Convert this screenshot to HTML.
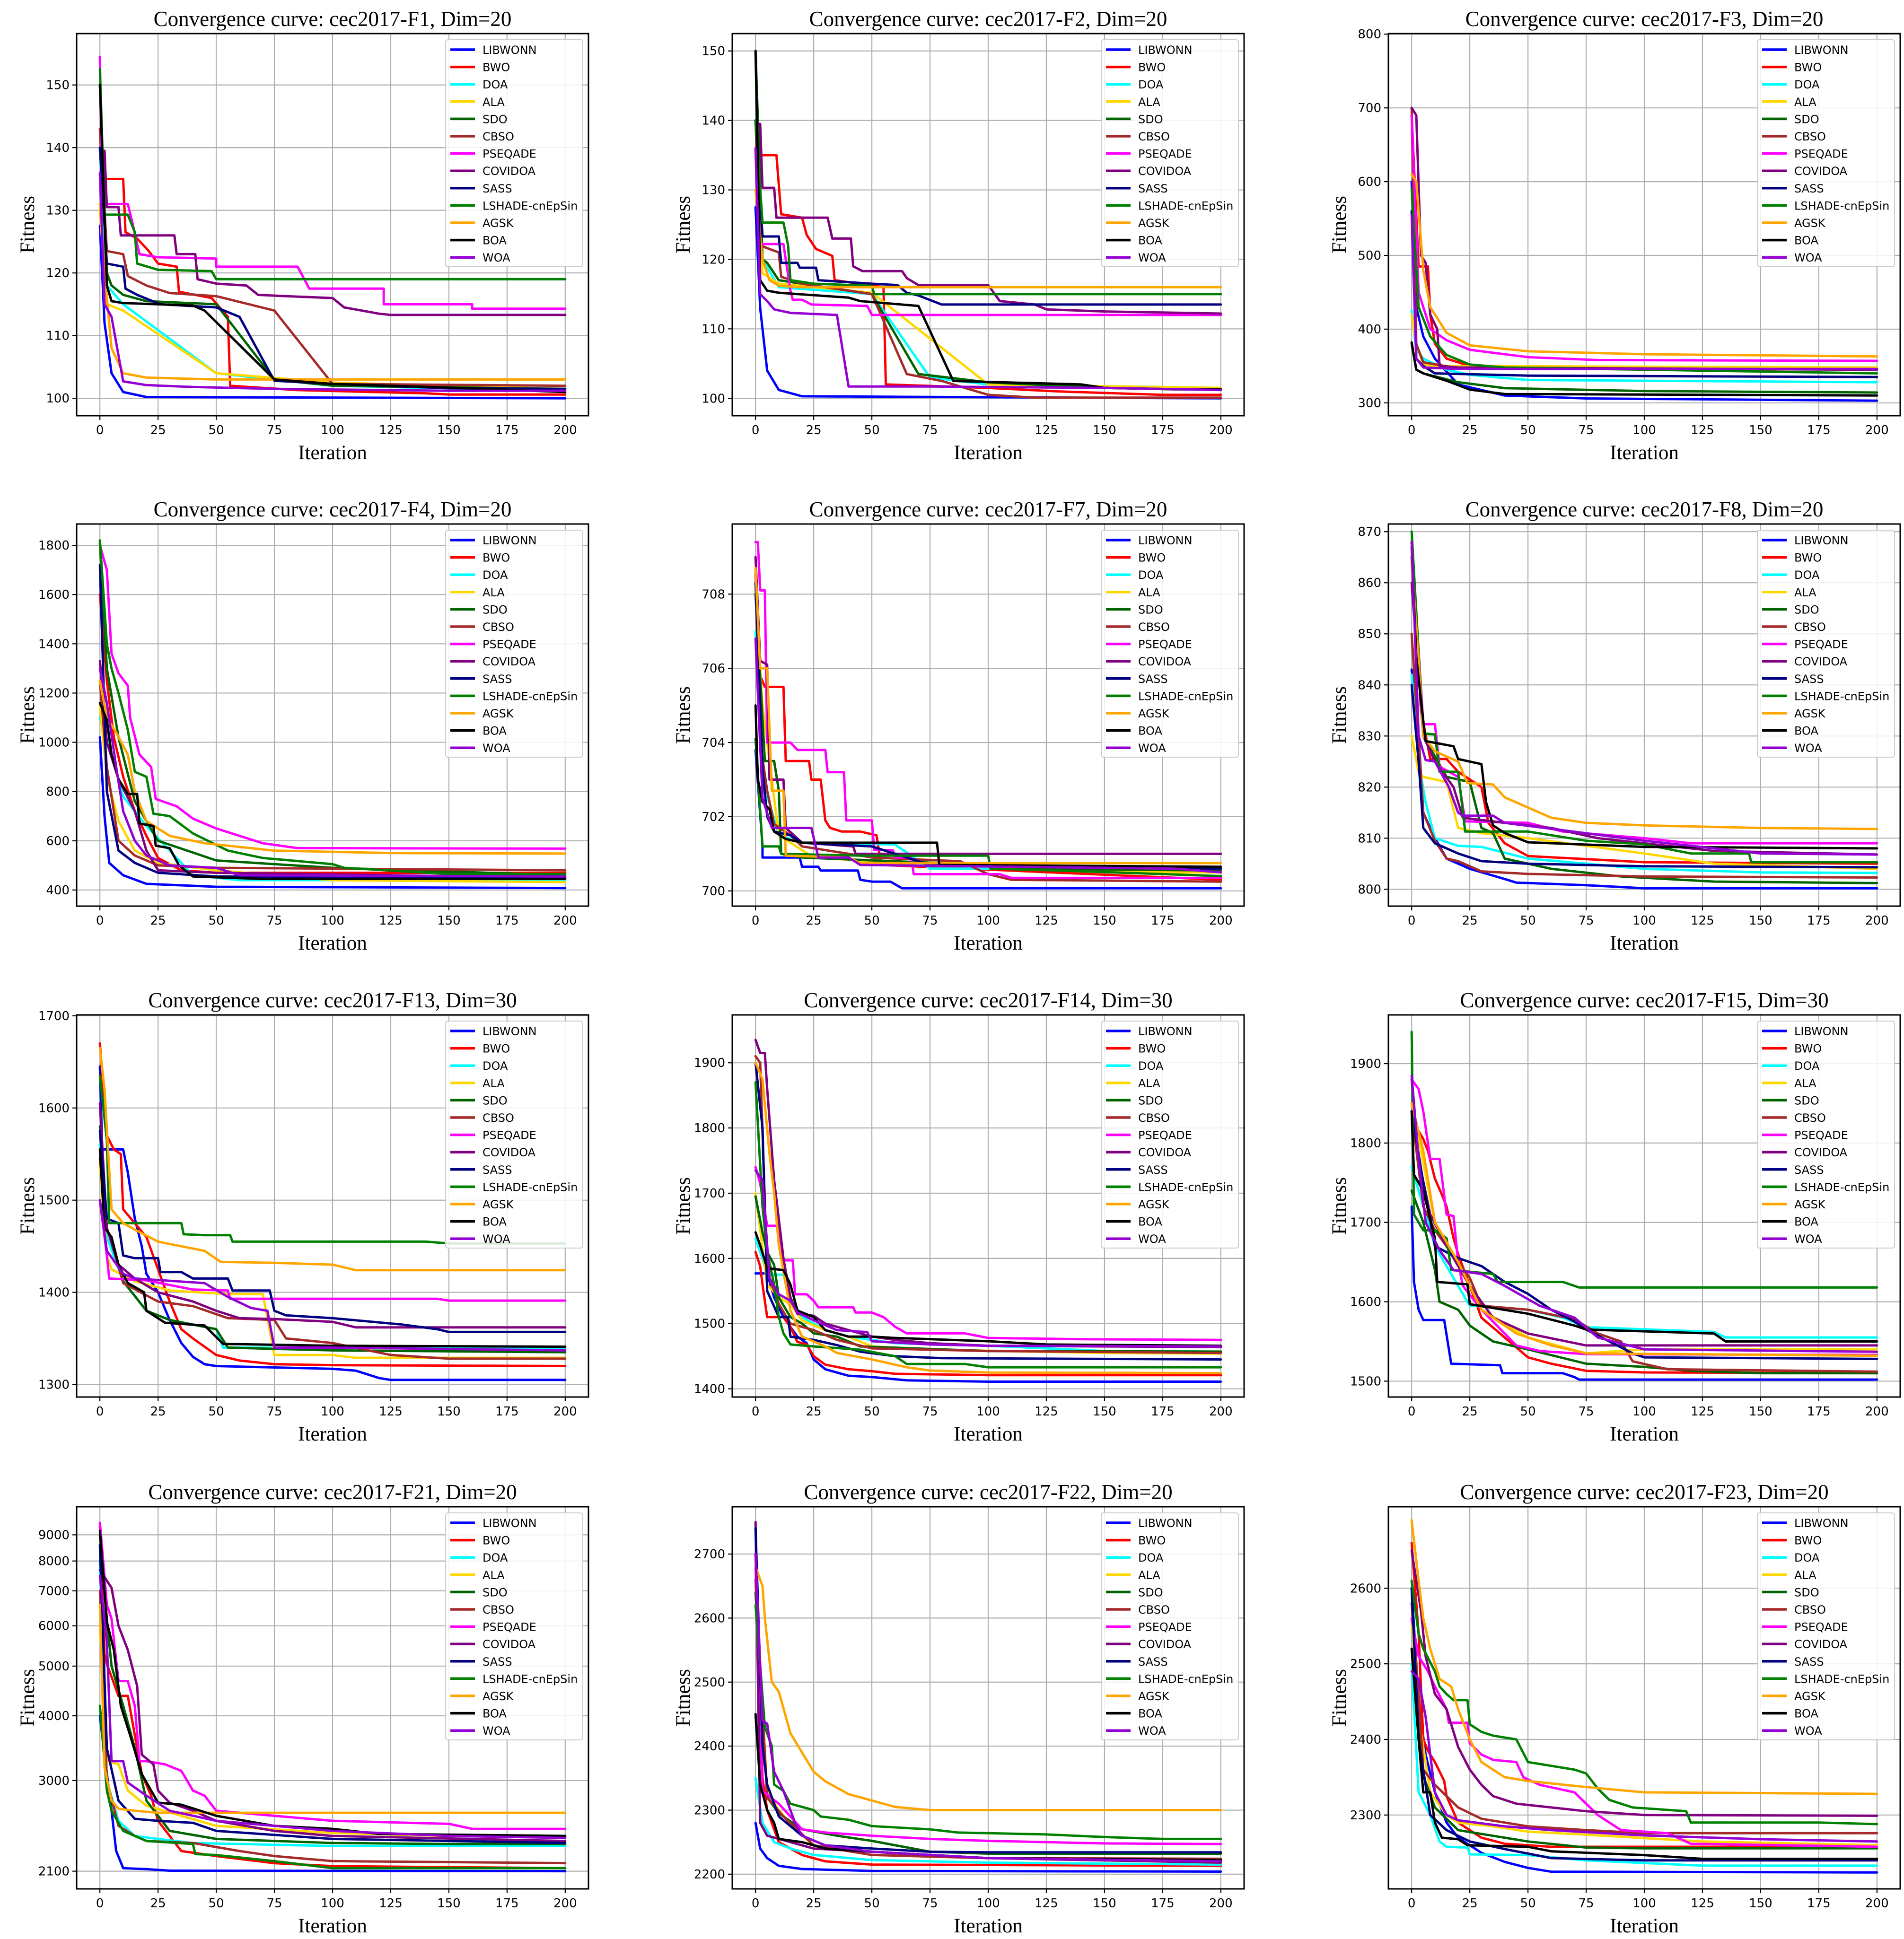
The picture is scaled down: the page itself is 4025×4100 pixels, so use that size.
<!DOCTYPE html>
<html><head><meta charset="utf-8"><title>Convergence curves</title>
<style>
html,body{margin:0;padding:0;background:#fff;}
svg{display:block;}
.title{font-family:"Liberation Serif",serif;font-size:45px;fill:#000;}
.axlab{font-family:"Liberation Serif",serif;font-size:43px;fill:#000;}
.tick{font-family:"DejaVu Sans","Liberation Sans",sans-serif;font-size:26px;fill:#000;}
.leg{font-family:"DejaVu Sans","Liberation Sans",sans-serif;font-size:24px;fill:#000;}
</style></head>
<body>
<svg id="fig" xmlns="http://www.w3.org/2000/svg" width="4025" height="4100" viewBox="0 0 4025 4100"></svg>
<script>
const seriesNames = ["LIBWONN","BWO","DOA","ALA","SDO","CBSO","PSEQADE","COVIDOA","SASS","LSHADE-cnEpSin","AGSK","BOA","WOA"];
const seriesColors = ["#0000ff","#ff0000","#00ffff","#ffd700","#006400","#a52a2a","#ff00ff","#800080","#000080","#008000","#ffa500","#000000","#9400d3"];
const panelTitles = ["cec2017-F1, Dim=20","cec2017-F2, Dim=20","cec2017-F3, Dim=20","cec2017-F4, Dim=20","cec2017-F7, Dim=20","cec2017-F8, Dim=20","cec2017-F13, Dim=30","cec2017-F14, Dim=30","cec2017-F15, Dim=30","cec2017-F21, Dim=20","cec2017-F22, Dim=20","cec2017-F23, Dim=20"];
const xTicks = [0,25,50,75,100,125,150,175,200];
const yLimits = [[97.22,158.2],[97.5,152.5],[282.6,800.8],[334.5,1886.6],[699.59,709.89],[796.7,871.5],[1286.4,1701],[1387.4,1973.4],[1480,1961.4],[2000,9700],[2177,2773.9],[2202.3,2707.8]];
const yTicksList = [
 [100,110,120,130,140,150],[100,110,120,130,140,150],[300,400,500,600,700,800],
 [400,600,800,1000,1200,1400,1600,1800],[700,702,704,706,708],[800,810,820,830,840,850,860,870],
 [1300,1400,1500,1600,1700],[1400,1500,1600,1700,1800,1900],[1500,1600,1700,1800,1900],
 [2100,3000,4000,5000,6000,7000,8000,9000],[2200,2300,2400,2500,2600,2700],[2300,2400,2500,2600]];
const f21KnotValues = [2000,2100,3000,4000,5000,6000,7000,8000,9000,9700];
const f21KnotFracs  = [0.0,0.0463,0.2835,0.4529,0.583,0.6885,0.780,0.858,0.9265,1.0];

const F1 = [
[[0,127.5],[2,112],[5,104],[10,101],[20,100.2],[200,100]],
[[0,143],[1,135],[10,135],[11,126.5],[16,125.5],[21,123.5],[25,121.5],[33,121],[34,117],[48,116],[55,113],[56,102],[85,101.3],[140,100.8],[150,100.6],[200,100.6]],
[[0,140],[3,118],[10,115],[50,104],[100,102],[200,101.2]],
[[0,130],[3,115],[10,114],[50,104],[100,102.5],[200,101.5]],
[[0,150],[3,120],[5,118],[10,116.5],[20,115.5],[50,115],[75,103],[100,102],[200,101.5]],
[[0,143],[3,123.5],[10,123],[12,119.5],[20,118],[30,116.8],[50,116.3],[75,114],[100,102.3],[200,102]],
[[0,154.5],[1,131],[12,131],[14,128],[17,123],[25,122.5],[50,122.3],[50,121],[85,121],[90,117.5],[122,117.5],[122,115],[160,115],[160,114.3],[200,114.3]],
[[0,139.5],[2,139.5],[3,130.5],[8,130.5],[9,126],[32,126],[33,123],[41,123],[42,119],[50,118.3],[63,118],[68,116.5],[80,116.3],[100,116],[105,114.5],[120,113.5],[125,113.3],[200,113.3]],
[[0,140],[3,121.5],[10,121],[11,117.5],[16,116.5],[26,115],[50,114.5],[60,113],[75,102.8],[100,102.3],[150,101.6],[200,101.5]],
[[0,152.5],[2,129.3],[12,129.3],[15,126.5],[16,121.5],[25,120.5],[48,120.3],[50,119],[200,119]],
[[0,131],[2,120],[5,108],[10,104],[20,103.3],[50,103],[200,103]],
[[0,150],[3,118],[5,115.5],[10,115.2],[40,114.8],[45,114],[75,103],[100,102.3],[150,101.7],[200,101]],
[[0,136],[2,115],[5,113],[10,102.7],[20,102.1],[40,101.8],[75,101.5],[150,101.2],[200,101.2]]];

const F2 = [
[[0,127.5],[2,113],[5,104],[10,101.2],[20,100.3],[200,100]],
[[0,140],[1,135],[9,135],[11,126.5],[20,126],[22,123.5],[26,121.5],[33,120.5],[34,117],[55,116],[56,102],[100,101.5],[130,101],[175,100.5],[200,100.5]],
[[0,140],[3,120],[10,116],[50,115],[75,103],[100,102],[200,101.5]],
[[0,135],[3,118],[10,116.5],[50,115.2],[100,102],[200,101.5]],
[[0,150],[3,120],[5,119.5],[10,117],[20,116.5],[50,115],[70,103.5],[100,102.3],[150,101.5],[200,101.2]],
[[0,140],[2,122],[10,121],[11,117.5],[20,116.5],[50,115],[65,103.5],[80,102.5],[100,100.5],[120,100.1],[200,100.1]],
[[0,136],[2,122.2],[12,122.2],[15,115.5],[16,114.2],[20,114.2],[24,113.5],[48,113.3],[50,112],[200,112]],
[[0,139.5],[2,139.5],[3,130.3],[8,130.3],[9,126],[31,126],[33,123],[41,123],[42,119],[46,118.3],[63,118.3],[65,117.3],[70,116.3],[100,116.3],[105,114],[120,113.5],[125,112.8],[150,112.5],[200,112.2]],
[[0,140],[3,123.3],[10,123.3],[11,119.5],[18,119.5],[19,118.8],[26,118.8],[27,117],[50,116.5],[61,116.3],[65,115.2],[70,114.8],[80,113.5],[200,113.5]],
[[0,140],[3,125.3],[12,125.3],[14,122],[15,117],[25,116.5],[50,116.2],[51,115],[200,115]],
[[0,130],[3,120],[6,117],[10,116.2],[20,116],[200,116]],
[[0,150],[2,117],[5,115.5],[10,115.2],[40,114.5],[45,114],[70,113.3],[85,102.5],[140,102],[150,101.5],[180,101.3],[200,101.3]],
[[0,136],[2,115],[5,114],[8,112.8],[15,112.3],[35,112],[40,101.7],[75,101.7],[150,101.5],[200,101.2]]];

const F3 = [
[[0,600],[2,430],[5,390],[10,360],[20,325],[40,310],[75,306],[200,303]],
[[0,690],[3,485],[7,485],[8,420],[10,380],[15,360],[25,350],[200,347]],
[[0,425],[2,372],[5,360],[15,345],[25,338],[50,331],[100,330],[200,328]],
[[0,420],[2,380],[5,352],[10,350],[200,348]],
[[0,380],[2,345],[5,340],[20,328],[40,320],[100,316],[200,314]],
[[0,700],[2,380],[5,355],[20,347],[200,345]],
[[0,690],[3,450],[8,400],[15,385],[25,372],[50,362],[80,358],[200,357]],
[[0,700],[2,690],[4,500],[6,490],[8,420],[11,400],[12,350],[20,348],[200,345]],
[[0,560],[2,360],[5,350],[10,340],[50,337],[200,335]],
[[0,590],[3,430],[8,390],[15,365],[25,352],[40,348],[200,340]],
[[0,610],[2,600],[5,480],[8,430],[15,395],[25,378],[50,370],[100,366],[200,363]],
[[0,382],[2,345],[5,340],[15,330],[25,318],[40,312],[200,310]],
[[0,555],[2,360],[5,348],[20,346],[200,346]]];

const F4 = [
[[0,1020],[2,700],[4,510],[10,460],[20,425],[50,413],[200,408]],
[[0,1600],[3,1250],[6,1020],[10,860],[15,720],[20,620],[25,530],[35,480],[50,470],[200,470]],
[[0,1100],[5,950],[10,780],[20,660],[30,560],[40,460],[60,440],[200,440]],
[[0,1150],[3,860],[8,680],[15,560],[25,510],[50,480],[100,440],[200,432]],
[[0,1810],[3,1300],[8,1020],[15,760],[25,600],[50,520],[100,490],[200,460]],
[[0,1250],[3,900],[8,600],[15,540],[25,500],[50,490],[200,480]],
[[0,1800],[3,1700],[5,1360],[8,1280],[12,1230],[13,1100],[17,950],[22,900],[24,770],[33,740],[40,690],[50,650],[60,620],[70,590],[85,570],[200,568]],
[[0,1330],[3,1000],[8,850],[15,720],[20,560],[25,480],[50,470],[200,450]],
[[0,1720],[3,800],[8,560],[15,510],[25,470],[50,455],[200,450]],
[[0,1820],[3,1400],[5,1300],[8,1200],[12,1050],[15,880],[20,860],[23,710],[30,700],[40,630],[55,560],[70,530],[100,505],[105,490],[150,465],[200,465]],
[[0,1250],[3,1100],[7,1040],[12,950],[15,800],[20,680],[30,620],[45,590],[75,560],[125,550],[200,548]],
[[0,1160],[3,1090],[5,950],[8,850],[12,790],[16,790],[17,670],[23,660],[24,580],[30,570],[34,500],[40,455],[70,445],[200,445]],
[[0,1300],[3,1160],[7,900],[10,720],[15,600],[20,540],[30,500],[50,490],[60,460],[200,455]]];

const F7 = [
[[0,703.8],[3,701.2],[3,700.9],[19,700.9],[20,700.65],[27,700.65],[28,700.55],[44,700.55],[45,700.3],[50,700.25],[58,700.25],[63,700.07],[200,700.07]],
[[0,708.5],[2,705.8],[4,705.5],[12,705.5],[13,703.5],[23,703.5],[24,703],[28,703],[30,701.9],[32,701.7],[37,701.6],[45,701.6],[52,701.5],[54,700.7],[200,700.3]],
[[0,707],[3,703],[10,701.5],[20,701.3],[60,701.25],[75,700.6],[200,700.6]],
[[0,708],[3,705],[10,701.5],[25,700.9],[50,700.8],[100,700.7],[175,700.5],[200,700.5]],
[[0,708],[4,703.5],[8,703.5],[10,702.7],[11,701],[20,700.9],[40,700.85],[100,700.7],[110,700.6],[200,700.55]],
[[0,708.6],[2,704],[5,702.7],[8,701.8],[15,701.5],[20,701.2],[50,700.9],[88,700.8],[100,700.45],[110,700.3],[200,700.25]],
[[0,709.4],[1,709.4],[2,708.1],[4,708.1],[5,704],[15,704],[18,703.8],[30,703.8],[31,703.2],[38,703.2],[39,701.9],[50,701.9],[51,701.1],[59,701.1],[60,700.9],[67,700.9],[68,700.45],[105,700.45],[110,700.35],[200,700.35]],
[[0,709],[2,706.2],[5,706.1],[6,703],[12,703],[13,701.7],[20,701.3],[42,701.2],[43,701],[200,701]],
[[0,708.3],[3,703.3],[5,702],[8,701.6],[15,701.5],[20,701.3],[50,701.2],[75,700.7],[200,700.6]],
[[0,704.1],[3,701.2],[10,701.2],[11,701.0],[45,700.95],[100,700.95],[101,700.6],[130,700.55],[200,700.4]],
[[0,708.7],[2,706],[5,706],[7,702.7],[12,702.7],[13,700.95],[40,700.9],[45,700.75],[200,700.75]],
[[0,705],[1,703],[3,702.4],[6,702.2],[8,701.6],[13,701.4],[20,701.3],[50,701.3],[78,701.3],[79,700.7],[200,700.65]],
[[0,706.8],[3,702.5],[7,701.7],[24,701.7],[27,700.9],[40,700.9],[45,700.7],[180,700.6],[200,700.5]]];

const F8 = [
[[0,843],[3,830],[5,815],[10,810],[15,806],[25,804],[40,802],[45,801.3],[75,800.8],[100,800.2],[200,800.2]],
[[0,868],[4,835],[8,825.5],[15,825.5],[20,823],[30,820],[33,813],[40,809],[50,806.5],[100,805.3],[200,805]],
[[0,842],[3,825],[6,817],[10,810],[20,808.5],[30,808.3],[50,806],[100,804],[150,803.3],[200,803.2]],
[[0,830],[3,823],[5,822],[15,821],[20,812],[30,811],[50,810],[100,807],[130,805],[200,804]],
[[0,865],[5,830],[15,822],[25,821],[30,812],[35,811],[40,806],[60,804],[90,802.5],[130,801.5],[200,801.2]],
[[0,850],[5,815],[10,809.5],[15,806],[20,805.5],[30,803.5],[50,803],[100,802.5],[200,802.3]],
[[0,868],[5,832.3],[10,832.3],[12,824],[20,822],[23,813.3],[50,813],[65,811.3],[100,810],[120,809],[200,809]],
[[0,860],[5,830],[10,825],[18,820],[22,814],[40,813],[60,812],[80,810],[100,809],[130,807.5],[200,806.8]],
[[0,840],[3,825],[5,812],[10,809],[15,808],[20,807],[30,805.5],[50,805],[100,804.5],[200,804.3]],
[[0,870],[5,830.5],[10,830.3],[12,823],[20,823],[23,811.3],[50,811.3],[75,809.5],[100,808.8],[120,807],[145,807],[146,805.3],[200,805.3]],
[[0,864],[3,845],[5,830],[10,827],[20,825],[24,820.8],[35,820.5],[40,818],[50,816],[60,814],[75,813],[100,812.5],[150,812],[200,811.8]],
[[0,867],[2,845.5],[4,837],[6,829],[18,828],[20,825.5],[25,825],[30,824.5],[32,817],[35,812.5],[40,811],[50,809.2],[100,808.3],[200,808]],
[[0,868],[3,830],[6,825.3],[10,825],[16,820],[20,815],[22,814.4],[35,814.4],[40,813],[100,809.5],[150,807],[200,806.8]]];

const F13 = [
[[0,1645],[1,1555],[10,1555],[12,1530],[15,1480],[18,1450],[20,1420],[25,1400],[30,1370],[35,1345],[40,1330],[45,1322],[50,1320],[100,1317],[110,1315],[120,1307],[125,1305],[200,1305]],
[[0,1670],[3,1570],[6,1555],[9,1550],[10,1490],[20,1460],[25,1425],[30,1390],[35,1360],[40,1350],[50,1332],[60,1326],[75,1322],[100,1321],[200,1320]],
[[0,1560],[3,1460],[10,1412],[20,1380],[30,1370],[50,1360],[53,1340],[200,1340]],
[[0,1540],[3,1440],[5,1425],[15,1412],[30,1402],[55,1398],[70,1398],[75,1332],[100,1332],[110,1329],[200,1329]],
[[0,1580],[3,1470],[10,1412],[20,1380],[30,1370],[50,1360],[55,1340],[100,1337],[200,1335]],
[[0,1545],[3,1470],[5,1455],[10,1410],[25,1390],[40,1385],[55,1372],[75,1370],[80,1350],[100,1345],[125,1332],[150,1328],[200,1328]],
[[0,1500],[3,1440],[4,1415],[20,1413],[40,1403],[55,1402],[56,1393],[145,1393],[150,1391],[200,1391]],
[[0,1605],[3,1470],[8,1430],[15,1415],[25,1400],[40,1390],[50,1380],[60,1372],[75,1371],[100,1368],[110,1362],[200,1362]],
[[0,1575],[3,1480],[8,1475],[10,1440],[15,1437],[25,1437],[26,1422],[35,1422],[40,1415],[55,1415],[57,1402],[73,1402],[75,1380],[80,1375],[100,1372],[130,1365],[145,1360],[150,1357],[200,1357]],
[[0,1635],[3,1565],[4,1475],[35,1475],[36,1463],[45,1462],[56,1462],[57,1455],[140,1455],[150,1453],[200,1453]],
[[0,1665],[2,1620],[5,1490],[10,1475],[15,1468],[25,1455],[35,1450],[45,1445],[52,1433],[75,1432],[100,1430],[110,1424],[200,1424]],
[[0,1555],[2,1470],[5,1460],[8,1430],[12,1410],[19,1400],[20,1380],[28,1367],[45,1364],[53,1344],[100,1342],[200,1341]],
[[0,1500],[3,1445],[10,1420],[15,1415],[45,1410],[55,1395],[65,1383],[72,1380],[75,1340],[100,1340],[200,1337]]];

const F14 = [
[[0,1577],[5,1577],[8,1540],[12,1510],[18,1480],[22,1470],[25,1445],[30,1430],[35,1425],[40,1420],[50,1418],[65,1413],[100,1411],[200,1411]],
[[0,1610],[2,1588],[3,1560],[5,1510],[12,1510],[15,1495],[18,1472],[22,1468],[25,1450],[30,1437],[40,1430],[50,1427],[60,1423],[100,1421],[200,1421]],
[[0,1630],[3,1600],[5,1575],[12,1575],[15,1540],[20,1510],[25,1500],[30,1490],[40,1480],[60,1470],[100,1466],[150,1458],[200,1457]],
[[0,1700],[5,1560],[10,1540],[15,1530],[20,1505],[30,1490],[40,1480],[50,1465],[75,1460],[150,1455],[200,1454]],
[[0,1695],[3,1640],[5,1610],[8,1590],[10,1540],[15,1510],[20,1500],[25,1485],[35,1480],[45,1465],[100,1458],[200,1457]],
[[0,1910],[2,1900],[5,1580],[10,1530],[15,1500],[25,1490],[35,1475],[50,1462],[100,1458],[200,1455]],
[[0,1740],[2,1715],[5,1650],[10,1650],[12,1597],[16,1597],[17,1545],[22,1545],[25,1535],[27,1525],[42,1525],[43,1517],[50,1517],[55,1510],[60,1495],[65,1485],[90,1485],[100,1478],[140,1476],[200,1475]],
[[0,1935],[2,1915],[4,1915],[5,1860],[8,1720],[10,1660],[12,1600],[15,1540],[18,1515],[25,1512],[30,1500],[40,1490],[50,1480],[60,1475],[75,1470],[100,1466],[200,1464]],
[[0,1900],[3,1800],[5,1550],[10,1510],[14,1510],[15,1480],[25,1475],[35,1467],[45,1457],[60,1450],[80,1447],[200,1445]],
[[0,1870],[3,1680],[5,1610],[8,1560],[10,1510],[12,1485],[15,1468],[25,1465],[45,1460],[60,1450],[65,1438],[90,1438],[100,1433],[200,1433]],
[[0,1900],[3,1875],[6,1760],[8,1700],[10,1620],[15,1520],[20,1480],[30,1465],[35,1455],[50,1445],[65,1433],[75,1428],[100,1425],[200,1424]],
[[0,1640],[2,1620],[5,1585],[12,1582],[15,1560],[18,1520],[25,1510],[30,1490],[40,1480],[50,1480],[60,1478],[100,1473],[125,1468],[200,1466]],
[[0,1735],[3,1720],[6,1570],[10,1545],[15,1535],[18,1517],[25,1505],[35,1490],[48,1487],[50,1473],[75,1468],[100,1466],[200,1465]]];

const F15 = [
[[0,1720],[1,1625],[3,1590],[5,1577],[14,1577],[16,1540],[17,1522],[38,1520],[39,1510],[65,1510],[70,1505],[72,1502],[200,1502]],
[[0,1830],[5,1805],[7,1790],[10,1755],[13,1735],[15,1720],[18,1680],[20,1660],[25,1620],[30,1580],[40,1555],[50,1530],[60,1522],[75,1513],[100,1511],[200,1510]],
[[0,1770],[5,1720],[10,1670],[25,1595],[50,1590],[65,1580],[75,1568],[130,1562],[135,1555],[200,1555]],
[[0,1850],[10,1700],[20,1650],[30,1590],[50,1555],[75,1535],[100,1540],[200,1540]],
[[0,1740],[5,1700],[10,1640],[12,1600],[20,1590],[25,1570],[35,1550],[50,1540],[75,1522],[100,1518],[120,1513],[150,1510],[200,1510]],
[[0,1840],[5,1720],[10,1690],[20,1650],[25,1630],[30,1595],[50,1590],[70,1578],[80,1560],[90,1550],[95,1525],[110,1515],[200,1512]],
[[0,1880],[3,1868],[5,1840],[8,1780],[12,1780],[15,1710],[18,1708],[20,1650],[22,1620],[30,1590],[40,1560],[45,1545],[55,1538],[75,1534],[200,1533]],
[[0,1880],[3,1780],[8,1710],[15,1670],[25,1620],[35,1580],[50,1560],[75,1545],[200,1545]],
[[0,1840],[5,1750],[10,1670],[20,1655],[30,1645],[40,1625],[50,1610],[60,1590],[70,1575],[75,1565],[85,1550],[95,1535],[100,1530],[200,1528]],
[[0,1940],[1,1710],[5,1690],[10,1690],[15,1680],[17,1640],[35,1635],[37,1625],[65,1625],[72,1618],[200,1618]],
[[0,1850],[5,1790],[10,1700],[20,1650],[30,1590],[45,1560],[60,1545],[75,1535],[200,1532]],
[[0,1840],[1,1760],[5,1740],[10,1680],[11,1625],[24,1622],[25,1597],[50,1585],[70,1570],[75,1565],[130,1560],[135,1550],[200,1550]],
[[0,1885],[3,1780],[6,1700],[12,1665],[18,1640],[30,1635],[40,1620],[55,1595],[70,1580],[80,1555],[100,1540],[200,1537]]];

const F21 = [
[[0,4000],[2,3400],[5,2700],[7,2300],[10,2130],[20,2120],[30,2105],[200,2100]],
[[0,9200],[2,5300],[3,5050],[8,4400],[12,4400],[15,3700],[18,3100],[22,2850],[25,2600],[30,2450],[35,2300],[50,2250],[75,2180],[100,2150],[150,2140],[200,2130]],
[[0,8000],[3,3000],[8,2600],[15,2450],[25,2420],[40,2380],[100,2350],[200,2350]],
[[0,6000],[3,3300],[8,3250],[12,2900],[20,2750],[50,2550],[100,2480],[150,2450],[200,2440]],
[[0,9000],[3,6200],[5,5000],[10,4200],[15,3500],[20,2800],[30,2500],[50,2420],[100,2380],[150,2370],[200,2370]],
[[0,7000],[3,3000],[8,2550],[15,2450],[20,2400],[40,2380],[60,2300],[75,2250],[100,2200],[200,2180]],
[[0,9300],[3,6600],[5,6200],[8,4700],[12,4700],[15,4200],[17,3300],[20,3300],[28,3250],[35,3150],[40,2900],[45,2850],[50,2700],[75,2650],[100,2600],[150,2570],[160,2520],[200,2520]],
[[0,7700],[5,7100],[8,6000],[12,5400],[16,4600],[18,3400],[23,3250],[25,2900],[30,2780],[40,2700],[50,2600],[75,2500],[100,2450],[200,2400]],
[[0,8600],[3,3500],[8,2800],[15,2620],[25,2600],[40,2580],[50,2500],[100,2420],[200,2380]],
[[0,4200],[3,2900],[5,2700],[10,2500],[15,2450],[20,2400],[40,2370],[41,2270],[50,2260],[75,2200],[100,2130],[200,2130]],
[[0,6600],[2,3200],[5,2800],[8,2720],[15,2700],[25,2680],[50,2680],[200,2680]],
[[0,9100],[3,6100],[6,5400],[9,4200],[13,3700],[18,3100],[25,2780],[35,2760],[50,2650],[75,2550],[100,2520],[120,2470],[200,2450]],
[[0,7500],[3,5600],[5,3300],[10,3300],[12,2980],[20,2850],[30,2700],[50,2600],[75,2550],[100,2500],[150,2450],[200,2430]]];

const F22 = [
[[0,2280],[2,2240],[5,2225],[10,2213],[20,2208],[50,2205],[200,2204]],
[[0,2700],[3,2350],[5,2300],[10,2250],[20,2230],[30,2220],[50,2215],[200,2213]],
[[0,2350],[3,2280],[8,2250],[15,2240],[25,2230],[50,2222],[100,2218],[200,2215]],
[[0,2650],[5,2330],[10,2300],[17,2270],[25,2245],[50,2230],[100,2225],[200,2218]],
[[0,2640],[5,2320],[10,2295],[20,2270],[35,2260],[50,2252],[75,2235],[100,2232],[200,2232]],
[[0,2660],[5,2320],[12,2290],[15,2280],[25,2245],[50,2230],[100,2225],[200,2224]],
[[0,2680],[3,2330],[10,2310],[20,2270],[30,2265],[50,2260],[75,2255],[100,2252],[150,2248],[200,2247]],
[[0,2750],[2,2280],[5,2260],[10,2255],[25,2240],[50,2235],[100,2225],[200,2218]],
[[0,2740],[3,2400],[5,2340],[10,2290],[20,2260],[30,2245],[50,2240],[75,2235],[100,2234],[200,2234]],
[[0,2620],[4,2430],[7,2400],[8,2340],[12,2330],[15,2310],[20,2305],[25,2300],[28,2290],[40,2285],[50,2275],[75,2270],[87,2265],[125,2262],[150,2258],[175,2255],[200,2255]],
[[0,2680],[3,2650],[4,2600],[7,2500],[10,2485],[15,2420],[20,2390],[25,2360],[30,2345],[40,2325],[50,2315],[60,2305],[75,2300],[200,2300]],
[[0,2450],[2,2340],[5,2300],[8,2280],[10,2255],[20,2250],[30,2240],[50,2235],[100,2225],[200,2222]],
[[0,2700],[3,2440],[5,2435],[8,2360],[12,2330],[17,2280],[20,2260],[30,2245],[50,2235],[100,2225],[200,2220]]];

const F23 = [
[[0,2600],[3,2450],[6,2380],[10,2330],[15,2290],[20,2270],[30,2250],[40,2238],[50,2230],[60,2225],[200,2224]],
[[0,2660],[3,2540],[5,2400],[7,2385],[10,2370],[14,2345],[15,2325],[20,2290],[30,2270],[40,2262],[60,2258],[200,2258]],
[[0,2500],[3,2330],[8,2300],[12,2265],[15,2258],[24,2257],[25,2248],[50,2247],[75,2240],[125,2233],[200,2233]],
[[0,2560],[3,2430],[8,2330],[15,2300],[20,2290],[35,2285],[50,2278],[75,2274],[125,2265],[200,2260]],
[[0,2600],[4,2360],[10,2310],[20,2280],[50,2265],[75,2257],[100,2256],[200,2256]],
[[0,2580],[3,2460],[5,2360],[10,2340],[20,2310],[30,2295],[50,2285],[75,2280],[100,2276],[200,2276]],
[[0,2560],[3,2510],[7,2490],[10,2470],[15,2440],[16,2422],[24,2422],[25,2395],[30,2380],[35,2373],[45,2370],[48,2350],[55,2340],[70,2330],[80,2300],[90,2280],[110,2276],[120,2262],[200,2258]],
[[0,2650],[4,2570],[6,2510],[10,2460],[15,2440],[20,2390],[25,2360],[30,2340],[35,2325],[45,2315],[75,2305],[100,2300],[200,2299]],
[[0,2600],[3,2400],[8,2300],[15,2280],[25,2265],[40,2255],[60,2243],[100,2240],[200,2240]],
[[0,2610],[3,2540],[5,2520],[10,2490],[12,2470],[15,2460],[18,2452],[24,2452],[25,2420],[30,2410],[35,2405],[45,2400],[50,2370],[60,2365],[70,2360],[75,2355],[80,2335],[85,2320],[95,2310],[118,2305],[120,2290],[175,2290],[200,2288]],
[[0,2690],[3,2610],[5,2560],[8,2520],[12,2480],[17,2470],[20,2440],[25,2400],[30,2370],[40,2350],[50,2345],[75,2337],[100,2330],[200,2328]],
[[0,2520],[3,2400],[5,2330],[8,2330],[10,2290],[13,2270],[20,2268],[24,2260],[50,2258],[60,2252],[100,2247],[125,2242],[200,2242]],
[[0,2490],[3,2480],[6,2430],[10,2330],[15,2300],[20,2293],[40,2285],[60,2280],[100,2273],[150,2268],[200,2265]]];

const panelData = [F1,F2,F3,F4,F7,F8,F13,F14,F15,F21,F22,F23];

const NS = "http://www.w3.org/2000/svg";
const svg = document.getElementById('fig');
const colLeft = [162, 1548, 2935];
const rowTop = [71, 1108, 2146, 3186];
const AW = 1082, AH = 808;
const XMIN = -10, XMAX = 210;

function mk(tag, attrs, parent){
  const e = document.createElementNS(NS, tag);
  for (const k in attrs) e.setAttribute(k, attrs[k]);
  (parent||svg).appendChild(e);
  return e;
}
function interp(v, xs, ys){
  if (v <= xs[0]) return ys[0] + (v-xs[0])*(ys[1]-ys[0])/(xs[1]-xs[0]);
  for (let i=1;i<xs.length;i++){
    if (v <= xs[i]) return ys[i-1] + (v-xs[i-1])*(ys[i]-ys[i-1])/(xs[i]-xs[i-1]);
  }
  const n=xs.length-1;
  return ys[n] + (v-xs[n])*(ys[n]-ys[n-1])/(xs[n]-xs[n-1]);
}

panelData.forEach((series, p) => {
  const L = colLeft[p%3], T = rowTop[Math.floor(p/3)];
  const [ymin, ymax] = yLimits[p];
  const xs = v => L + (v - XMIN) / (XMAX - XMIN) * AW;
  const ys = (p === 9)
    ? (v => T + AH - interp(v, f21KnotValues, f21KnotFracs) * AH)
    : (v => T + AH - (v - ymin) / (ymax - ymin) * AH);

  const g = mk('g', {});
  
  

  const t = mk('text', {x: L + AW/2, y: T - 16, 'text-anchor':'middle', class:'title'}, g);
  
  
  t.textContent = 'Convergence curve: ' + panelTitles[p];

  xTicks.forEach(v => {
    const ln = mk('line', {x1: xs(v), x2: xs(v), y1: T, y2: T+AH, stroke:'#b0b0b0', 'stroke-width':2.2}, g);
    
    
  });
  yTicksList[p].forEach(v => {
    const ln = mk('line', {x1: L, x2: L+AW, y1: ys(v), y2: ys(v), stroke:'#b0b0b0', 'stroke-width':2.2}, g);
    
    
  });

  const cid = 'clip' + p;
  const cp = mk('clipPath', {id: cid}, g);
  mk('rect', {x: L, y: T, width: AW, height: AH}, cp);

  const sg = mk('g', {'clip-path': 'url(#' + cid + ')'}, g);
  series.forEach((pts, i) => {
    const d = pts.map((q, k) => (k ? 'L' : 'M') + xs(q[0]).toFixed(1) + ',' + ys(q[1]).toFixed(1)).join(' ');
    const path = mk('path', {d: d, fill:'none', stroke: seriesColors[i], 'stroke-width': 5, 'stroke-linejoin':'round', 'stroke-linecap':'round'}, sg);
    
    
  });

  const fr = mk('rect', {x: L, y: T, width: AW, height: AH, fill:'none', stroke:'#000', 'stroke-width':3}, g);
  
  

  xTicks.forEach(v => {
    mk('line', {x1: xs(v), x2: xs(v), y1: T+AH, y2: T+AH+9, stroke:'#000', 'stroke-width':2.2}, g);
    const tx = mk('text', {x: xs(v), y: T+AH+39, 'text-anchor':'middle', class:'tick'}, g);
    
    
    tx.textContent = v;
  });
  yTicksList[p].forEach(v => {
    mk('line', {x1: L-9, x2: L, y1: ys(v), y2: ys(v), stroke:'#000', 'stroke-width':2.2}, g);
    const ty = mk('text', {x: L-15, y: ys(v)+9, 'text-anchor':'end', class:'tick'}, g);
    
    
    ty.textContent = v;
  });

  const xl = mk('text', {x: L + AW/2, y: T + AH + 92, 'text-anchor':'middle', class:'axlab'}, g);
  
  
  xl.textContent = 'Iteration';
  const yl = mk('text', {x: 0, y: 0, 'text-anchor':'middle', class:'axlab', transform: 'translate(' + (L - 90) + ',' + (T + AH/2) + ') rotate(-90)'}, g);
  
  
  yl.textContent = 'Fitness';

  const lg = mk('g', {}, g);
  
  
  mk('rect', {x: L+780, y: T+13, width: 290, height: 480, rx: 5, fill:'#fff', 'fill-opacity':0.85, stroke:'#cccccc', 'stroke-width':2}, lg);
  seriesNames.forEach((nm, i) => {
    const yy = T + 34 + 36.6*i;
    const eg = mk('g', {}, lg);
    
    
    mk('line', {x1: L+790, x2: L+842, y1: yy, y2: yy, stroke: seriesColors[i], 'stroke-width': 5.5}, eg);
    const lt = mk('text', {x: L+858, y: yy+9, class:'leg'}, eg);
    lt.textContent = nm;
  });
});
</script>
</body></html>
